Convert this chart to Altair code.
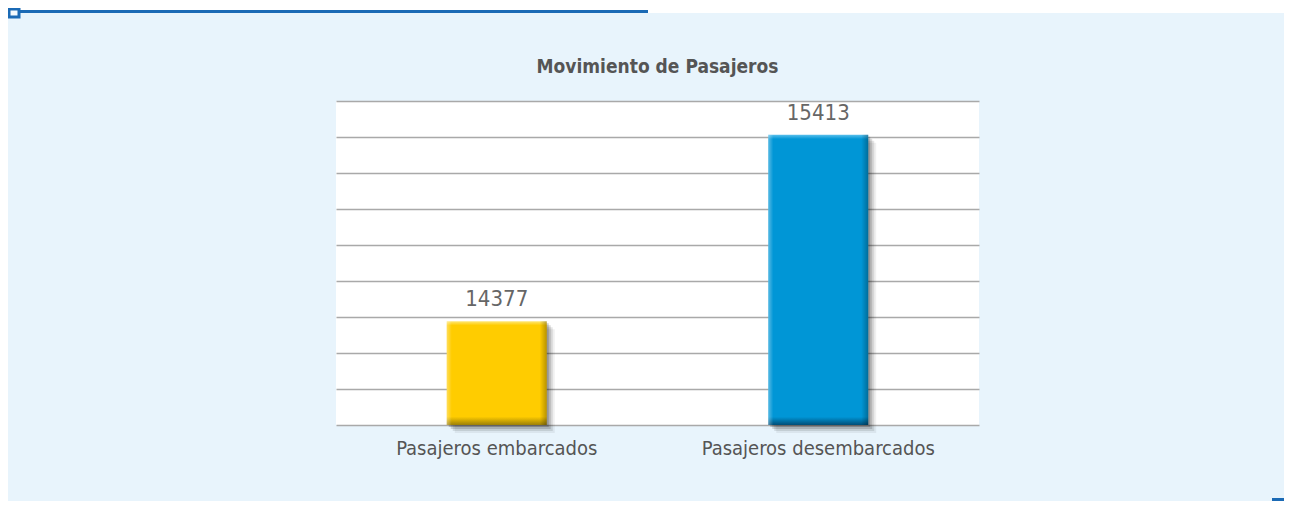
import altair as alt
import pandas as pd

# ---- data ----
title_text = "Movimiento de Pasajeros"
categories = ["Pasajeros embarcados", "Pasajeros desembarcados"]
values = [14377, 15413]
grid_values = [13800, 14000, 14200, 14400, 14600, 14800, 15000, 15200, 15400, 15600]

df = pd.DataFrame({"cat": categories, "val": values})
one = pd.DataFrame({"a": [0]})

FONT = "Liberation Sans Narrow, DejaVu Sans Condensed, Roboto Condensed, sans-serif"
PANEL = "#E8F4FC"
LINE_BLUE = "#1B6AB5"

W, H = 643, 324

x_enc = alt.X(
    "cat:N",
    sort=categories,
    scale=alt.Scale(paddingInner=0.689, paddingOuter=0.3445),
    axis=alt.Axis(
        title=None, labelAngle=0, ticks=False, domain=False, grid=False,
        labelFont=FONT, labelFontSize=20, labelColor="#555555", labelPadding=13,
        labelLimit=0,
    ),
)
y_enc = alt.Y(
    "val:Q",
    scale=alt.Scale(domain=[grid_values[0], grid_values[-1]], nice=False, zero=False),
    axis=alt.Axis(
        title=None, labels=False, ticks=False, domain=False, values=grid_values,
        grid=True, gridColor="#A9A9A9", gridWidth=1.5,
    ),
)

base = alt.Chart(df).encode(x=x_enc, y=y_enc, y2=alt.datum(grid_values[0]))

# soft shadow (several offset translucent bars)
shadows = [
    base.mark_bar(color="#000000", opacity=op, xOffset=o, x2Offset=o, yOffset=o, y2Offset=o)
    for o, op in [(2, 0.18), (4, 0.14), (6, 0.10), (8, 0.06)]
]


def grad(light, mid, dark, top, bottom):
    return alt.Gradient(
        gradient="linear", x1=0, x2=0, y1=0, y2=1,
        stops=[
            alt.GradientStop(color=light, offset=0),
            alt.GradientStop(color=mid, offset=top),
            alt.GradientStop(color=mid, offset=bottom),
            alt.GradientStop(color=dark, offset=1),
        ],
    )


bar_yellow = base.transform_filter(alt.datum.cat == categories[0]).mark_bar(
    color=grad("#FFE87A", "#FFCC00", "#9C8008", 0.04, 0.92)
)
bar_blue = base.transform_filter(alt.datum.cat == categories[1]).mark_bar(
    color=grad("#5CC0EC", "#0096D6", "#004E78", 0.015, 0.972)
)

side_shade = base.mark_bar(
    color=alt.Gradient(
        gradient="linear", x1=0, x2=1, y1=0, y2=0,
        stops=[
            alt.GradientStop(color="rgba(255,255,255,0.35)", offset=0),
            alt.GradientStop(color="rgba(255,255,255,0)", offset=0.05),
            alt.GradientStop(color="rgba(0,0,0,0)", offset=0.93),
            alt.GradientStop(color="rgba(0,0,0,0.28)", offset=1),
        ],
    )
)

labels = base.mark_text(
    dy=-10, baseline="bottom", font=FONT, fontSize=22, color="#666666"
).encode(text=alt.Text("val:Q", format="d"))

# title as a text mark (so that decorations do not push it away)
title_mark = alt.Chart(one).mark_text(
    font=FONT, fontSize=19, fontWeight="bold", color="#555555",
    align="center", baseline="alphabetic",
).encode(x=alt.value(W / 2), y=alt.value(-28), text=alt.value(title_text))

# decorations
top_white = alt.Chart(one).mark_rect(color="white").encode(
    x=alt.value(-330), x2=alt.value(950), y=alt.value(-95), y2=alt.value(-88)
)
top_line = alt.Chart(one).mark_rule(color=LINE_BLUE, strokeWidth=3).encode(
    x=alt.value(-322), x2=alt.value(312), y=alt.value(-89.5)
)
top_square = alt.Chart(one).mark_rect(color="#F4FAFE", stroke=LINE_BLUE, strokeWidth=3).encode(
    x=alt.value(-327), x2=alt.value(-317), y=alt.value(-92), y2=alt.value(-84)
)
corner_dash = alt.Chart(one).mark_rect(color=LINE_BLUE).encode(
    x=alt.value(936), x2=alt.value(948), y=alt.value(397), y2=alt.value(400)
)

chart = alt.layer(
    *shadows, bar_yellow, bar_blue, side_shade, labels, title_mark,
    top_white, top_line, top_square, corner_dash,
).properties(
    width=W,
    height=H,
    autosize=alt.AutoSizeParams(type="none"),
    padding={"left": 328, "top": 93, "right": 305, "bottom": 76},
    background=PANEL,
).configure_view(stroke=None, fill="white")

chart.save("out.html", embed_options={"renderer": "svg", "actions": False})
